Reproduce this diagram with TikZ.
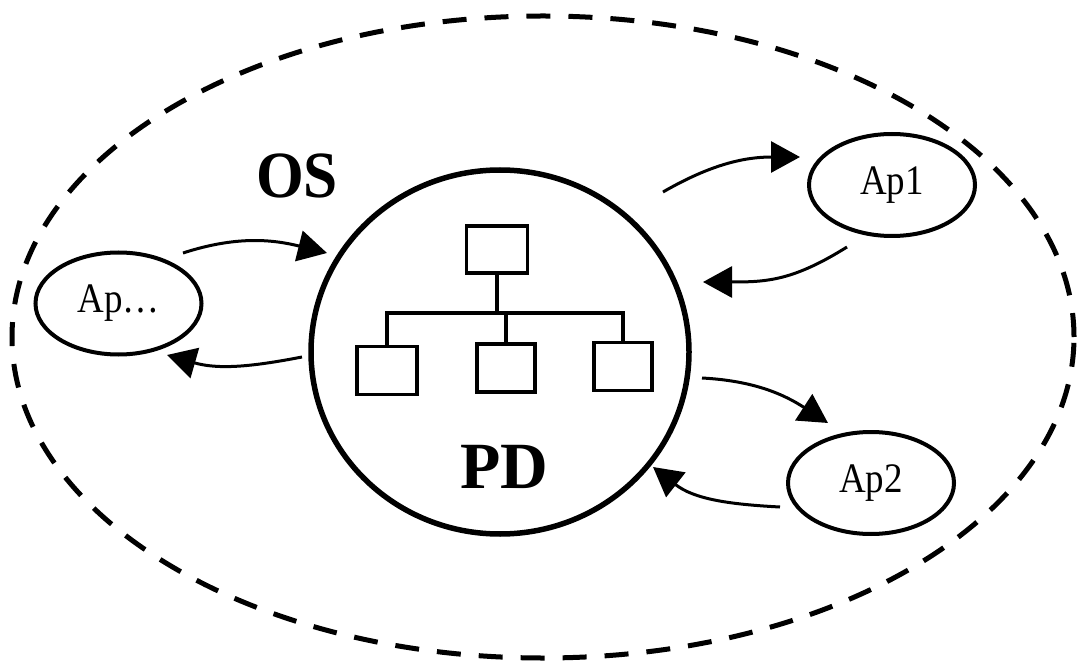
\documentclass[tikz,border=0pt]{standalone}
\usepackage{fontspec}
\setmainfont{Liberation Serif}
\usepackage{graphicx}
\usetikzlibrary{shapes.geometric,arrows.meta,calc}
\begin{document}
\begin{tikzpicture}[x=1pt,y=1pt,
  app/.style={ellipse,draw,line width=4pt,inner sep=0pt,outer sep=0pt,
    minimum width=166pt,minimum height=102pt,font=\fontsize{42}{42}\selectfont},
  box/.style={draw,line width=3.5pt,inner sep=0pt,minimum width=60pt,minimum height=48pt},
  tree/.style={line width=3.5pt},
  flow/.style={line width=3pt,-{Triangle[length=29pt,width=31pt]}},
  big/.style={font=\fontsize{66}{66}\selectfont\bfseries,inner sep=0pt,anchor=base}]
\useasboundingbox (0,0) rectangle (1078,662);

% operating system boundary
\node[ellipse,draw,dash pattern=on 24pt off 18pt,line width=5pt,
  minimum width=1062pt,minimum height=642pt] (os) at (543,325) {};
\node[big] (oslabel) at (297,464) {\scalebox{0.93}[1]{OS}};

% process directory
\node[ellipse,draw,line width=5.5pt,inner sep=0pt,outer sep=0pt,
  minimum width=378pt,minimum height=364pt] (pd) at (500,310) {};
\node[big] (pdlabel) at (504,174) {PD};

% directory tree
\node[box,minimum width=61pt,minimum height=47pt] (root) at (497,412.5) {};
\node[box] (left) at (387,291.5) {};
\node[box,minimum width=58pt] (mid) at (506,294) {};
\node[box,minimum width=58pt] (right) at (623,295.5) {};
\coordinate (bus) at (497,349);
\draw[tree] (root.south) -- (root.south |- bus);
\draw[tree] (left.north) |- (right.north |- bus) -- (right.north);
\draw[tree] (mid.north) -- (mid.north |- bus);

% applications
\node[app] (ap1) at (892,477) {\scalebox{0.88}[1]{Ap1}};
\node[app] (ap2) at (871,179) {\scalebox{0.88}[1]{Ap2}};
\node[app] (apx) at (118.5,358.5) {\scalebox{0.88}[1]{Ap…}};

% exchanges between the directory and the applications
\draw[flow] ($(pd)+(163,160)$) to[out=30,in=180] ($(ap1)+(-92,28)$);
\draw[flow] ($(ap1)+(-45,-62)$) to[out=212,in=0,looseness=1.1] ($(pd)+(203,70)$);
\draw[flow] ($(apx)+(64.5,50.5)$) to[out=18,in=166] ($(pd)+(-173,99)$);
\draw[flow] ($(pd)+(-198,-5)$) to[out=191,in=-16] ($(apx)+(48.5,-51.5)$);
\draw[flow] ($(pd)+(202,-26)$) to[out=-3,in=147] ($(ap2)+(-43,60)$);
\draw[flow] ($(ap2)+(-91,-24)$) to[out=177,in=-38] ($(pd)+(153,-115)$);
\end{tikzpicture}
\end{document}
